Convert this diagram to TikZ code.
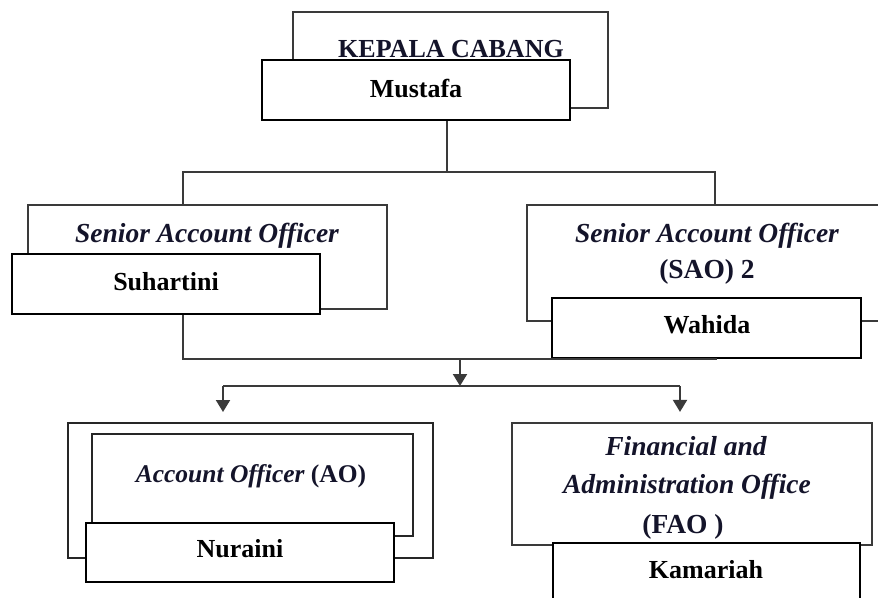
\documentclass[tikz,border=0pt]{standalone}
\usepackage{fontspec}
\setmainfont{Liberation Serif}
\usetikzlibrary{fit,arrows.meta}
\definecolor{linegray}{HTML}{3A3A3A}
\definecolor{roleink}{HTML}{14142A}
\tikzset{
  rolebox/.style={draw=linegray, line width=2.2pt, inner sep=0pt},
  namebox/.style={draw=black, fill=white, line width=1.8pt, inner sep=0pt},
  nametxt/.style={anchor=base, inner sep=0pt, font=\fontsize{26}{30}\selectfont\bfseries},
  roletxt/.style={anchor=base, text=roleink, inner sep=0pt, font=\fontsize{27.5}{32}\selectfont\bfseries},
  conn/.style={draw=linegray, line width=2pt},
  arr/.style={conn, -{Triangle[width=14pt,length=12pt]}},
}
\begin{document}
\begin{tikzpicture}[x=1pt,y=-1pt]
\useasboundingbox (0,0) rectangle (878,597);
\clip (0,0) rectangle (878,597);
\fill[white] (0,0) rectangle (878,597);

% KEPALA CABANG
\node[rolebox, fit={(293,12) (608,108)}] (kepala) {};
\node[roletxt, font=\fontsize{26}{30}\selectfont\bfseries] (kepalatxt) at (451,57) {KEPALA CABANG};
\node[namebox, fit={(262,60) (570,120)}] (mustafa) {};
\node[nametxt] (mustafatxt) at (416,97) {Mustafa};

% SAO 1
\node[rolebox, fit={(28,205) (387,309)}] (sao1) {};
\node[roletxt] (sao1txt) at (207,242) {\itshape Senior Account Officer};
\node[namebox, fit={(12,254) (320,314)}] (suhartini) {};
\node[nametxt] (suhartinitxt) at (166,290) {Suhartini};

% SAO 2
\node[rolebox, fit={(527,205) (905,321)}] (sao2) {};
\node[roletxt] (sao2txta) at (707,242) {\itshape Senior Account Officer};
\node[roletxt] (sao2txtb) at (707,278) {(SAO) 2};
\node[namebox, fit={(552,298) (861,358)}] (wahida) {};
\node[nametxt] (wahidatxt) at (707,333) {Wahida};

% AO
\node[rolebox, line width=2pt, draw=black!85, fit={(68,423) (433,558)}] (aoout) {};
\node[rolebox, line width=2pt, draw=black!85, fit={(92,434) (413,536)}] (aoin) {};
\node[roletxt, font=\fontsize{25.5}{30}\selectfont\bfseries] (aotxt) at (251,482) {\itshape Account Officer \upshape(AO)};
\node[namebox, fit={(86,523) (394,582)}] (nuraini) {};
\node[nametxt] (nurainitxt) at (240,557) {Nuraini};

% FAO
\node[rolebox, fit={(512,423) (872,545)}] (fao) {};
\node[roletxt] (faotxta) at (686,455) {\itshape Financial and};
\node[roletxt] (faotxtb) at (687,493) {\itshape Administration Office};
\node[roletxt] (faotxtc) at (683,533) {(FAO )};
\node[namebox, fit={(553,543) (860,601)}] (kamariah) {};
\node[nametxt] (kamariahtxt) at (706,578) {Kamariah};

% connectors
\coordinate (j1) at (447,172);
\coordinate (l1) at (183,172);
\coordinate (r1) at (715,172);
\draw[conn] (mustafa.south -| j1) -- (j1);
\draw[conn] (sao1.north -| l1) -- (l1) -- (r1) -- (sao2.north -| r1);

\coordinate (b1) at (183,359);
\coordinate (b2) at (717,359);
\draw[conn] (suhartini.south -| b1) -- (b1) -- (b2);

\coordinate (m1) at (460,359);
\coordinate (m2) at (460,386);
\draw[arr] (m1) -- (m2);

\coordinate (a1) at (223,386);
\coordinate (a2) at (680,386);
\draw[conn] (a1) -- (a2);
\draw[arr, shorten >=10pt] (a1) -- (aoout.north -| a1);
\draw[arr, shorten >=10pt] (a2) -- (fao.north -| a2);
\end{tikzpicture}
\end{document}
